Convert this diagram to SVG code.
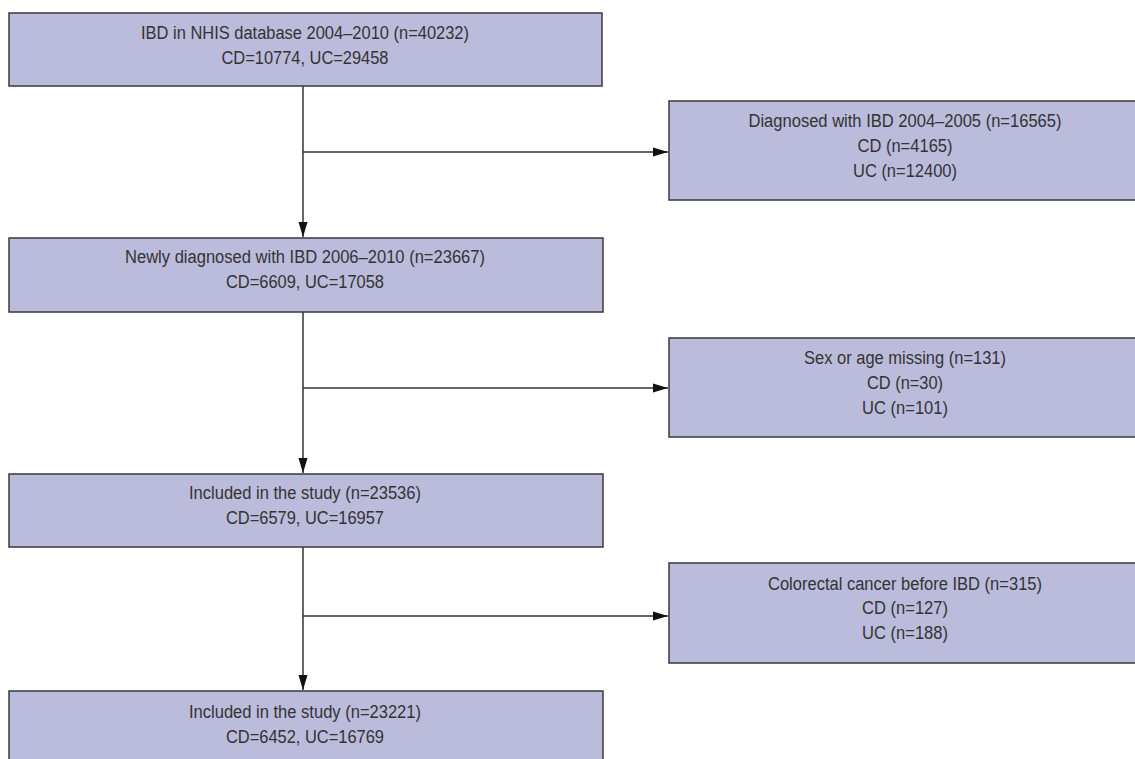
<svg xmlns="http://www.w3.org/2000/svg" width="1135" height="759" viewBox="0 0 1135 759">
<defs>
<style>
.box{fill:#BBBBDB;stroke:#3a3a3a;stroke-width:1.5}
.t{font-family:"Liberation Sans Narrow","Liberation Sans",sans-serif;font-size:18px;fill:#333;text-anchor:middle}
.ln{stroke:#333;stroke-width:1.5;fill:none}
</style>
<marker id="ah" viewBox="0 0 15 10" refX="15" refY="5" markerWidth="15" markerHeight="10" markerUnits="userSpaceOnUse" orient="auto">
<path d="M0,0.5 L15,5 L0,9.5 Z" fill="#111"/>
</marker>
</defs>
<g id="connectors">
<line class="ln" x1="303" y1="86" x2="303" y2="237" marker-end="url(#ah)"/>
<line class="ln" x1="303" y1="152" x2="668" y2="152" marker-end="url(#ah)"/>
<line class="ln" x1="303" y1="312" x2="303" y2="473" marker-end="url(#ah)"/>
<line class="ln" x1="303" y1="388" x2="668" y2="388" marker-end="url(#ah)"/>
<line class="ln" x1="303" y1="547" x2="303" y2="690" marker-end="url(#ah)"/>
<line class="ln" x1="303" y1="616" x2="668" y2="616" marker-end="url(#ah)"/>
</g>
<g id="n1">
<rect class="box" x="9" y="13" width="593" height="73"/>
<text class="t" x="305" y="39" textLength="328" lengthAdjust="spacingAndGlyphs">IBD in NHIS database 2004–2010 (n=40232)</text>
<text class="t" x="305" y="64" textLength="167" lengthAdjust="spacingAndGlyphs">CD=10774, UC=29458</text>
</g>
<g id="n2">
<rect class="box" x="669" y="101" width="472" height="99"/>
<text class="t" x="905" y="127" textLength="313" lengthAdjust="spacingAndGlyphs">Diagnosed with IBD 2004–2005 (n=16565)</text>
<text class="t" x="905" y="152" textLength="95" lengthAdjust="spacingAndGlyphs">CD (n=4165)</text>
<text class="t" x="905" y="177" textLength="104" lengthAdjust="spacingAndGlyphs">UC (n=12400)</text>
</g>
<g id="n3">
<rect class="box" x="9" y="238" width="594" height="74"/>
<text class="t" x="305" y="263" textLength="360" lengthAdjust="spacingAndGlyphs">Newly diagnosed with IBD 2006–2010 (n=23667)</text>
<text class="t" x="305" y="288" textLength="158" lengthAdjust="spacingAndGlyphs">CD=6609, UC=17058</text>
</g>
<g id="n4">
<rect class="box" x="669" y="338" width="472" height="99"/>
<text class="t" x="905" y="364" textLength="202" lengthAdjust="spacingAndGlyphs">Sex or age missing (n=131)</text>
<text class="t" x="905" y="389" textLength="76" lengthAdjust="spacingAndGlyphs">CD (n=30)</text>
<text class="t" x="905" y="414" textLength="86" lengthAdjust="spacingAndGlyphs">UC (n=101)</text>
</g>
<g id="n5">
<rect class="box" x="9" y="474" width="594" height="73"/>
<text class="t" x="305" y="499" textLength="232" lengthAdjust="spacingAndGlyphs">Included in the study (n=23536)</text>
<text class="t" x="305" y="524" textLength="158" lengthAdjust="spacingAndGlyphs">CD=6579, UC=16957</text>
</g>
<g id="n6">
<rect class="box" x="669" y="563" width="472" height="100"/>
<text class="t" x="905" y="590" textLength="274" lengthAdjust="spacingAndGlyphs">Colorectal cancer before IBD (n=315)</text>
<text class="t" x="905" y="614" textLength="86" lengthAdjust="spacingAndGlyphs">CD (n=127)</text>
<text class="t" x="905" y="639" textLength="86" lengthAdjust="spacingAndGlyphs">UC (n=188)</text>
</g>
<g id="n7">
<rect class="box" x="9" y="691" width="594" height="80"/>
<text class="t" x="305" y="718" textLength="232" lengthAdjust="spacingAndGlyphs">Included in the study (n=23221)</text>
<text class="t" x="305" y="743" textLength="158" lengthAdjust="spacingAndGlyphs">CD=6452, UC=16769</text>
</g>
</svg>
